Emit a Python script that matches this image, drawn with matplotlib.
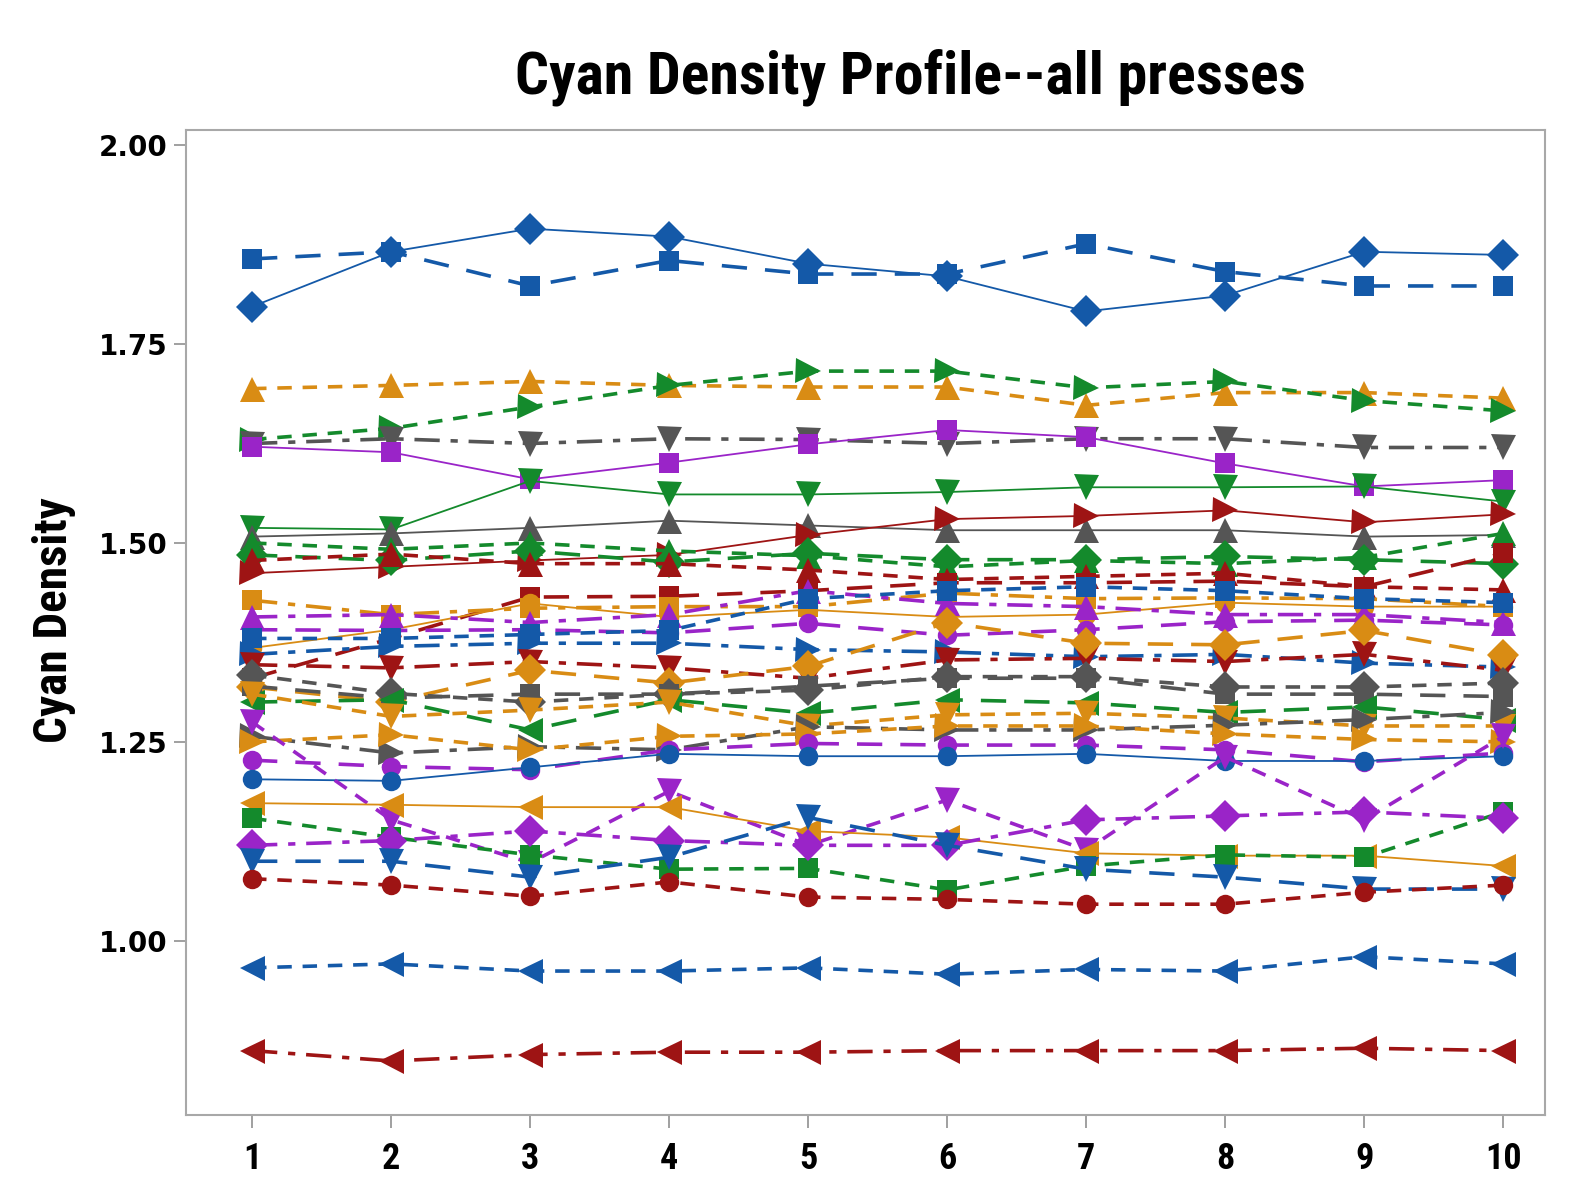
import numpy as np
import matplotlib
matplotlib.use('Agg')
import matplotlib.pyplot as plt
from matplotlib import font_manager

# sample number (x axis)
samples = list(range(1, 11))

# colours used by the series (Minitab-like palette)
BLUE = '#1459A8'
RED = '#9E1414'
GREEN = '#148A2C'
ORANGE = '#D98C14'
PURPLE = '#9A24C8'
GRAY = '#555555'

# line dash patterns (in units of linewidth)
SOLID = '-'
LONG = (0, (7, 5))
DASH = (0, (4, 3))
DDOT = (0, (7, 3, 2, 3))

# cyan density values per press
blue_diamond = [1.797, 1.866, 1.895, 1.885, 1.851, 1.835, 1.791, 1.811, 1.866, 1.862]
blue_square = [1.857, 1.866, 1.823, 1.855, 1.838, 1.838, 1.876, 1.841, 1.823, 1.823]
orange_up = [1.694, 1.698, 1.703, 1.698, 1.696, 1.696, 1.673, 1.689, 1.689, 1.682]
green_right = [1.630, 1.644, 1.671, 1.698, 1.716, 1.716, 1.695, 1.703, 1.679, 1.666]
gray_down = [1.625, 1.631, 1.625, 1.631, 1.630, 1.625, 1.631, 1.631, 1.620, 1.620]
purple_square = [1.621, 1.614, 1.580, 1.601, 1.624, 1.642, 1.633, 1.600, 1.571, 1.579]
green_down = [1.519, 1.517, 1.578, 1.561, 1.561, 1.564, 1.570, 1.570, 1.571, 1.552]
gray_up = [1.508, 1.512, 1.519, 1.528, 1.522, 1.516, 1.516, 1.516, 1.508, 1.510]
red_right = [1.462, 1.470, 1.478, 1.485, 1.510, 1.530, 1.534, 1.541, 1.526, 1.536]
green_up = [1.500, 1.492, 1.500, 1.490, 1.484, 1.470, 1.478, 1.474, 1.482, 1.512]
green_diamond = [1.485, 1.478, 1.490, 1.476, 1.487, 1.479, 1.479, 1.483, 1.479, 1.474]
red_up = [1.478, 1.486, 1.474, 1.474, 1.466, 1.454, 1.458, 1.462, 1.445, 1.441]
red_square = [1.330, 1.380, 1.432, 1.433, 1.440, 1.450, 1.450, 1.452, 1.445, 1.487]
orange_square = [1.428, 1.410, 1.418, 1.420, 1.420, 1.437, 1.430, 1.431, 1.430, 1.420]
orange_circle = [1.368, 1.391, 1.424, 1.407, 1.416, 1.407, 1.410, 1.425, 1.420, 1.420]
purple_up = [1.407, 1.410, 1.400, 1.410, 1.440, 1.424, 1.420, 1.410, 1.410, 1.400]
purple_circle_hi = [1.391, 1.390, 1.391, 1.387, 1.399, 1.384, 1.391, 1.401, 1.403, 1.397]
blue_square_mid = [1.380, 1.380, 1.385, 1.390, 1.430, 1.440, 1.445, 1.440, 1.430, 1.425]
blue_right = [1.360, 1.370, 1.374, 1.374, 1.366, 1.363, 1.357, 1.360, 1.349, 1.344]
red_down = [1.347, 1.343, 1.351, 1.343, 1.330, 1.353, 1.355, 1.351, 1.360, 1.340]
orange_diamond = [1.319, 1.300, 1.340, 1.324, 1.345, 1.400, 1.374, 1.372, 1.390, 1.359]
gray_diamond = [1.334, 1.311, 1.300, 1.310, 1.315, 1.332, 1.332, 1.319, 1.319, 1.324]
gray_square = [1.320, 1.305, 1.310, 1.310, 1.320, 1.330, 1.330, 1.310, 1.310, 1.307]
green_left = [1.300, 1.303, 1.265, 1.303, 1.286, 1.303, 1.299, 1.287, 1.294, 1.278]
orange_down = [1.310, 1.282, 1.290, 1.300, 1.270, 1.284, 1.286, 1.280, 1.270, 1.270]
gray_right = [1.257, 1.236, 1.244, 1.240, 1.269, 1.265, 1.265, 1.271, 1.278, 1.287]
orange_right = [1.250, 1.259, 1.240, 1.257, 1.260, 1.270, 1.270, 1.260, 1.253, 1.250]
purple_circle = [1.227, 1.219, 1.215, 1.240, 1.248, 1.246, 1.246, 1.240, 1.225, 1.236]
blue_circle = [1.203, 1.201, 1.218, 1.235, 1.232, 1.232, 1.235, 1.226, 1.226, 1.232]
purple_down = [1.275, 1.152, 1.098, 1.188, 1.120, 1.177, 1.114, 1.231, 1.152, 1.257]
orange_left = [1.173, 1.171, 1.168, 1.168, 1.138, 1.130, 1.110, 1.107, 1.107, 1.094]
green_square = [1.154, 1.130, 1.108, 1.090, 1.091, 1.064, 1.094, 1.108, 1.105, 1.162]
purple_diamond = [1.120, 1.126, 1.138, 1.126, 1.120, 1.120, 1.152, 1.157, 1.162, 1.154]
blue_down = [1.100, 1.100, 1.080, 1.105, 1.155, 1.120, 1.090, 1.080, 1.065, 1.065]
red_circle = [1.078, 1.070, 1.056, 1.074, 1.055, 1.052, 1.046, 1.046, 1.061, 1.070]
blue_left = [0.966, 0.971, 0.962, 0.962, 0.966, 0.958, 0.964, 0.962, 0.980, 0.971]
red_left = [0.862, 0.849, 0.857, 0.860, 0.860, 0.862, 0.862, 0.862, 0.865, 0.862]

# (values, colour, marker, linestyle)
series = [
    (blue_diamond, BLUE, 'D', SOLID),
    (blue_square, BLUE, 's', LONG),
    (orange_up, ORANGE, '^', DASH),
    (green_right, GREEN, '>', DASH),
    (gray_down, GRAY, 'v', DDOT),
    (purple_square, PURPLE, 's', SOLID),
    (green_down, GREEN, 'v', SOLID),
    (gray_up, GRAY, '^', SOLID),
    (red_right, RED, '>', SOLID),
    (green_up, GREEN, '^', DASH),
    (green_diamond, GREEN, 'D', LONG),
    (red_up, RED, '^', DASH),
    (red_square, RED, 's', LONG),
    (orange_square, ORANGE, 's', DDOT),
    (orange_circle, ORANGE, 'o', SOLID),
    (purple_up, PURPLE, '^', DDOT),
    (purple_circle_hi, PURPLE, 'o', LONG),
    (blue_square_mid, BLUE, 's', DASH),
    (blue_right, BLUE, '>', DDOT),
    (red_down, RED, 'v', DDOT),
    (orange_diamond, ORANGE, 'D', LONG),
    (gray_diamond, GRAY, 'D', DASH),
    (gray_square, GRAY, 's', LONG),
    (green_left, GREEN, '<', LONG),
    (orange_down, ORANGE, 'v', DASH),
    (gray_right, GRAY, '>', DDOT),
    (orange_right, ORANGE, '>', DASH),
    (purple_circle, PURPLE, 'o', LONG),
    (blue_circle, BLUE, 'o', SOLID),
    (purple_down, PURPLE, 'v', DASH),
    (orange_left, ORANGE, '<', SOLID),
    (green_square, GREEN, 's', DASH),
    (purple_diamond, PURPLE, 'D', DDOT),
    (blue_down, BLUE, 'v', LONG),
    (red_circle, RED, 'o', DASH),
    (blue_left, BLUE, '<', DASH),
    (red_left, RED, '<', DDOT),
]

# narrow font for title / labels if a condensed face is present
names = {f.name for f in font_manager.fontManager.ttflist}
narrow = None
for cand in ['DejaVu Sans Condensed', 'Liberation Sans Narrow', 'Roboto Condensed', 'Open Sans Condensed']:
    if cand in names:
        narrow = cand
        break

fig = plt.figure(figsize=(15.94, 11.95), dpi=100)
ax = fig.add_axes([0.1167, 0.0669, 0.8526, 0.8243])

msize = {'D': 16, 's': 14, 'o': 14, '^': 18, 'v': 18, '<': 18, '>': 18}
for vals, col, mk, ls in series:
    lw = 1.3 if ls == SOLID else 2.6
    ax.plot(samples, vals, color=col, marker=mk, linestyle=ls, linewidth=lw,
            markersize=msize[mk], markeredgewidth=0)

ax.set_xlim(0.525, 10.30)
ax.set_ylim(0.781, 2.019)
ax.set_xticks(samples)
ax.set_yticks([1.00, 1.25, 1.50, 1.75, 2.00])
ax.set_yticklabels(['1.00', '1.25', '1.50', '1.75', '2.00'])

for sp in ax.spines.values():
    sp.set_color('#A8A8A8')
    sp.set_linewidth(1.5)
ax.tick_params(axis='both', direction='out', color='#909090', length=9, width=1.2)
ax.tick_params(axis='y', labelsize=20, pad=4)
for lab in ax.get_yticklabels():
    lab.set_fontweight('bold')

if narrow:
    tfam, tsize, lsize, xsize = narrow, 43, 34, 26
else:
    tfam, tsize, lsize, xsize = 'DejaVu Sans', 31, 24, 21
ax.tick_params(axis='x', labelsize=xsize, pad=10)
for lab in ax.get_xticklabels():
    lab.set_fontweight('bold')
    lab.set_family(tfam)

fig.text(0.571, 0.935, 'Cyan Density Profile--all presses', ha='center', va='center',
         fontsize=tsize, fontweight='bold', family=tfam)
fig.text(0.034, 0.481, 'Cyan Density', ha='center', va='center', rotation=90,
         fontsize=lsize, fontweight='bold', family=tfam)

fig.savefig('out.png', dpi=100)
